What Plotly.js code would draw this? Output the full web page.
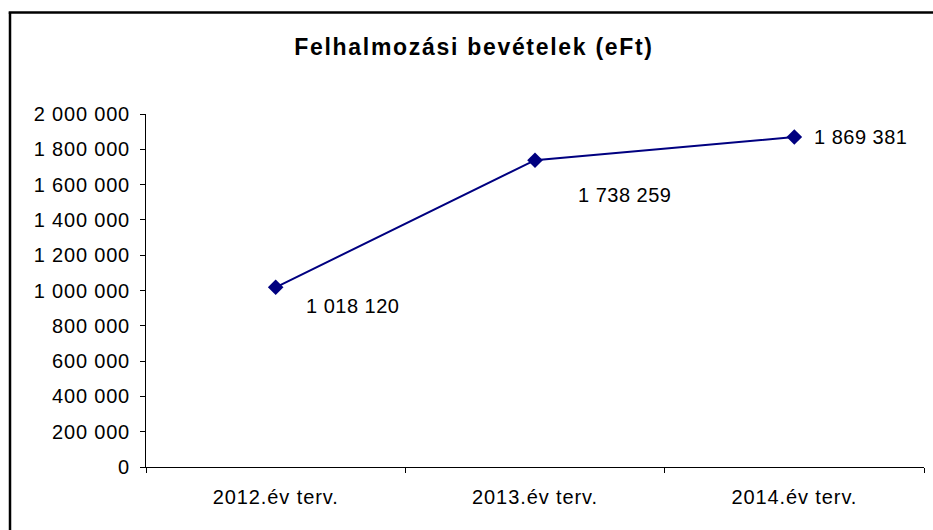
<!DOCTYPE html>
<html>
<head>
<meta charset="utf-8">
<script src="https://cdn.plot.ly/plotly-3.0.1.min.js"></script>
<style>
html,body{margin:0;padding:0;background:#fff;}
#chart{width:933px;height:530px;}
.gtitle{letter-spacing:1.7px;}
.ytick text{letter-spacing:0.8px;}
.xtick text{letter-spacing:0.9px;}
.annotation-text{letter-spacing:0.5px;}
</style>
</head>
<body>
<div id="chart"></div>
<script>
const categories = ["2012.év terv.", "2013.év terv.", "2014.év terv."];
const values = [1018120, 1738259, 1869381];
const yTickValues = [0, 200000, 400000, 600000, 800000, 1000000, 1200000, 1400000, 1600000, 1800000, 2000000];
const yTickLabels = ["0", "200 000", "400 000", "600 000", "800 000", "1 000 000", "1 200 000", "1 400 000", "1 600 000", "1 800 000", "2 000 000"];
const valueLabels = ["1 018 120", "1 738 259", "1 869 381"];
const labelShiftX = [77, 89, 66];
const labelShiftY = [-19, -35, 0];

const font = "Liberation Sans, Arial, sans-serif";

const trace = {
  x: categories,
  y: values,
  type: "scatter",
  mode: "lines+markers",
  line: {color: "#000080", width: 2},
  marker: {symbol: "diamond", size: 12, color: "#000080"},
  hoverinfo: "skip",
  cliponaxis: false
};

const annotations = categories.map((c, i) => ({
  x: c, y: values[i], xref: "x", yref: "y",
  text: valueLabels[i], showarrow: false,
  xshift: labelShiftX[i], yshift: labelShiftY[i],
  font: {family: font, size: 20, color: "#000"}
}));

const layout = {
  width: 933, height: 530,
  margin: {l: 146, r: 9, t: 114, b: 63},
  paper_bgcolor: "#fff", plot_bgcolor: "#fff",
  showlegend: false,
  title: {
    text: "<b>Felhalmozási bevételek (eFt)</b>",
    font: {family: font, size: 23, color: "#000"},
    x: 0.508, xanchor: "center",
    y: 0.912, yanchor: "middle"
  },
  xaxis: {
    type: "category",
    range: [-0.5, 2.5],
    showline: true, linecolor: "#000", linewidth: 1,
    ticks: "outside", ticklen: 5, tickcolor: "#000",
    tickson: "boundaries",
    showgrid: false, zeroline: false,
    tickfont: {family: font, size: 20, color: "#000"},
    ticklabelstandoff: 12,
    fixedrange: true
  },
  yaxis: {
    range: [0, 2000000],
    tickvals: yTickValues, ticktext: yTickLabels,
    showline: true, linecolor: "#000", linewidth: 1,
    ticks: "outside", ticklen: 5, tickcolor: "#000",
    showgrid: false, zeroline: false,
    tickfont: {family: font, size: 20, color: "#000"},
    ticklabelstandoff: 6,
    fixedrange: true
  },
  annotations: annotations,
  shapes: [
    {type: "line", xref: "paper", yref: "paper", x0: -0.1748, x1: -0.1748, y0: -0.2, y1: 1.2875, line: {color: "#000", width: 2.5}},
    {type: "line", xref: "paper", yref: "paper", x0: -0.1765, x1: 1.02, y0: 1.2875, y1: 1.2875, line: {color: "#000", width: 2.5}}
  ]
};

Plotly.newPlot("chart", [trace], layout, {displayModeBar: false, staticPlot: true});
</script>
</body>
</html>
